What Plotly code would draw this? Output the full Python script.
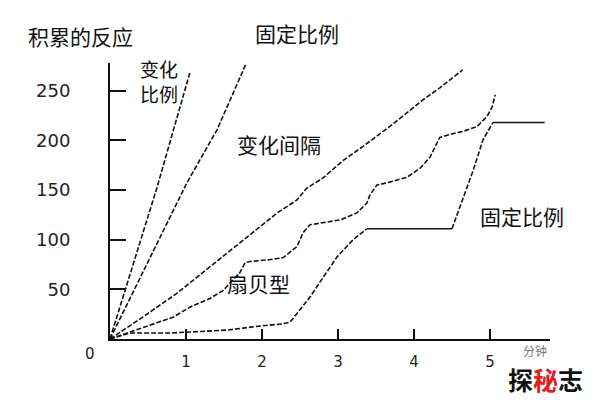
import plotly.graph_objects as go

# ---- data ----
# 变化比例 (variable ratio)
vr_x = [0, 0.62, 1.05]
vr_y = [0, 153, 268]
# 固定比例 (fixed ratio, steep)
fr1_x = [0, 1.01, 1.41, 1.80]
fr1_y = [0, 157, 211, 279]
# 变化间隔 (variable interval)
vi_x = [0, 0.43, 0.88, 1.32, 1.75, 2.20, 2.46, 2.59, 2.80, 3.07, 3.33, 3.51, 3.68, 3.91, 4.12, 4.34, 4.47, 4.64]
vi_y = [0, 22, 46, 73, 100, 127, 140, 152, 162, 180, 194, 204, 214, 228, 241, 253, 261, 271]
# 扇贝型 (fixed interval, scallop)
fi_x = [0, 0.43, 0.83, 1.05, 1.32, 1.49, 1.71, 1.78, 1.84, 2.11, 2.28, 2.46, 2.54, 2.63, 2.80, 3.03,
        3.25, 3.38, 3.42, 3.51, 3.68, 3.91, 4.08, 4.21, 4.34, 4.47, 4.64, 4.83, 4.96, 5.03, 5.07]
fi_y = [0, 11, 22, 32, 41, 49, 67, 77, 78, 80, 82, 93, 107, 115, 117, 120,
        127, 137, 145, 155, 158, 163, 172, 183, 203, 206, 209, 214, 224, 234, 246]
# 固定比例 (fixed ratio, lower with pauses)
fr2_x = [0, 0.26, 0.79, 1.09, 1.54, 1.97, 2.24, 2.37, 2.50, 2.63, 2.76, 2.99, 3.20, 3.38, 4.50, 4.64, 4.78, 4.91, 5.04, 5.72]
fr2_y = [0, 6, 6, 7, 9, 13, 15, 17, 29, 42, 57, 83, 100, 111, 111, 140, 170, 201, 218, 218]

y_ticks = [50, 100, 150, 200, 250]
x_ticks = [1, 2, 3, 4, 5]
x_tick_text = ["1", "2", "3", "4", "5"]

fig = go.Figure()
dash_style = dict(color="#111111", width=1.6, dash="5px,2px")
solid_style = dict(color="#111111", width=1.6)
for xs, ys in [(vr_x, vr_y), (fr1_x, fr1_y), (vi_x, vi_y), (fi_x, fi_y)]:
    fig.add_trace(go.Scatter(x=xs, y=ys, mode="lines", line=dash_style,
                             hoverinfo="skip", showlegend=False))
# lower fixed ratio: dashed runs, solid pauses
for a, b, st in [(0, 14, dash_style), (13, 15, solid_style), (14, 19, dash_style), (18, 20, solid_style)]:
    fig.add_trace(go.Scatter(x=fr2_x[a:b], y=fr2_y[a:b], mode="lines", line=st,
                             hoverinfo="skip", showlegend=False))

cjk = "Noto Sans CJK SC"
lab = dict(family=cjk, size=21, color="#111111")

def ann(text, x, y, ref="data", font=lab):
    fig.add_annotation(text=text, x=x, y=y,
                       xref="x" if ref == "data" else "paper",
                       yref="y" if ref == "data" else "paper",
                       xanchor="center", yanchor="middle",
                       showarrow=False, font=font)

# labels inside the plot (data coordinates)
ann("变化<br>比例", 0.645, 260, font=dict(family=cjk, size=19, color="#111111"))
ann("变化间隔", 2.22, 196)
ann("扇贝型", 1.95, 56)
ann("固定比例", 5.42, 124)
# labels outside the plot (paper coordinates)
ann("积累的反应", -0.068, 1.098, ref="paper")
ann("固定比例", 0.425, 1.109, ref="paper")
ann("0", -0.045, -0.054, ref="paper", font=dict(family="DejaVu Sans", size=15, color="#222222"))
ann("分钟", 0.966, -0.04, ref="paper", font=dict(family=cjk, size=12, color="#777777"))
ann("<b>探<span style='color:#e0201c'>秘</span>志</b>", 0.989, -0.145, ref="paper",
    font=dict(family=cjk, size=25, color="#111111"))

fig.update_layout(
    width=600, height=400,
    margin=dict(l=102, r=58, t=55, b=69),
    paper_bgcolor="white", plot_bgcolor="white",
    xaxis=dict(range=[0, 5.79], showgrid=False, zeroline=False,
               showline=True, linecolor="#111111", linewidth=2,
               ticks="inside", ticklen=10, tickwidth=2, tickcolor="#111111",
               tickvals=x_ticks, ticktext=x_tick_text, ticklabelstandoff=8,
               tickfont=dict(family="DejaVu Sans", size=15, color="#222222")),
    yaxis=dict(range=[0, 278], showgrid=False, zeroline=False,
               showline=True, linecolor="#111111", linewidth=2,
               ticks="inside", ticklen=16, tickwidth=2, tickcolor="#111111",
               tickvals=y_ticks, ticklabelstandoff=34,
               tickfont=dict(family="DejaVu Sans", size=18, color="#222222")),
)

fig.write_html("out.html")
